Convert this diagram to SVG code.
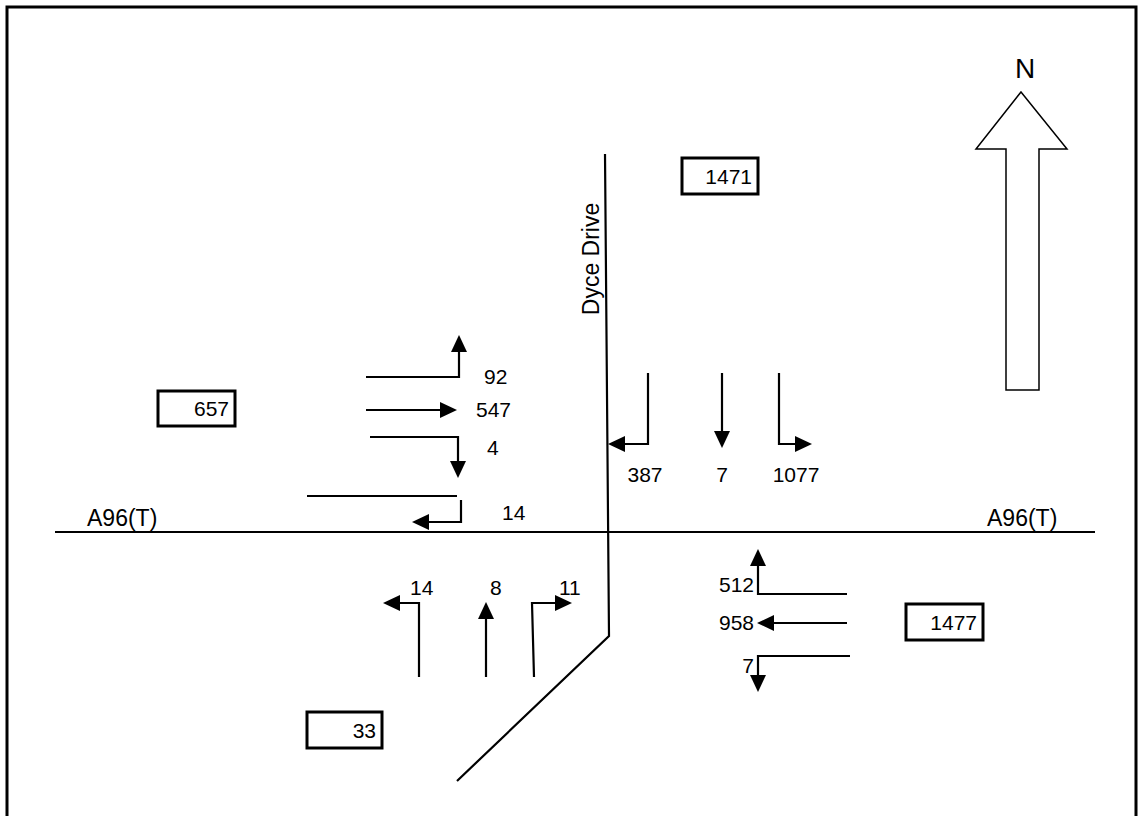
<svg xmlns="http://www.w3.org/2000/svg" width="1139" height="816" viewBox="0 0 1139 816">
<style>
.ln{stroke:#000;stroke-width:2.2;fill:none}
.hd{fill:#000;stroke:none}
.bx{fill:#fff;stroke:#000;stroke-width:3}
.t{font-family:"Liberation Sans",Arial,sans-serif;font-size:21px;fill:#000}
.r{font-family:"Liberation Sans",Arial,sans-serif;font-size:23px;fill:#000}
</style>
<rect x="0" y="0" width="1139" height="816" fill="#fff"/>
<g id="border"><path d="M7,840 V7 H1136 V840" fill="none" stroke="#000" stroke-width="3"/></g>
<g id="roads">
<path class="ln" d="M55,532 H1095"/>
<path class="ln" d="M605,154 L609,636 L457,781"/>
<text class="r" x="87" y="526">A96(T)</text>
<text class="r" x="987" y="526">A96(T)</text>
<text class="r" transform="translate(599,259) rotate(-90)" text-anchor="middle">Dyce Drive</text>
</g>
<g id="north">
<polygon points="1021,92 1067,149 1039,149 1039,390 1006,390 1006,149 976,149" fill="#fff" stroke="#000" stroke-width="1.5"/>
<text x="1025" y="78" text-anchor="middle" style="font-family:'Liberation Sans',Arial,sans-serif;font-size:28px">N</text>
</g>
<g id="box-1471"><rect class="bx" x="682" y="158" width="76" height="36"/><text class="t" x="752" y="184" text-anchor="end">1471</text></g>
<g id="box-657"><rect class="bx" x="158" y="391" width="77" height="35"/><text class="t" x="229" y="416" text-anchor="end">657</text></g>
<g id="box-33"><rect class="bx" x="307" y="712" width="75" height="36"/><text class="t" x="376" y="738" text-anchor="end">33</text></g>
<g id="box-1477"><rect class="bx" x="906" y="604" width="77" height="36"/><text class="t" x="977" y="630" text-anchor="end">1477</text></g>
<g id="connectors">
<path class="ln" d="M366,377 H459 V350"/><polygon class="hd" points="459,335 451,352 467,352"/>
<path class="ln" d="M366,410 H442"/><polygon class="hd" points="457,410 440,402 440,418"/>
<path class="ln" d="M370,437 H458 V463"/><polygon class="hd" points="458,478 450,461 466,461"/>
<path class="ln" d="M307,496 H457"/>
<path class="ln" d="M461,500 V522 H427"/><polygon class="hd" points="412,522 429,514 429,530"/>
<path class="ln" d="M419,677 V603 H398"/><polygon class="hd" points="383,603 400,595 400,611"/>
<path class="ln" d="M486,677 V617"/><polygon class="hd" points="486,602 478,619 494,619"/>
<path class="ln" d="M534,677 L532,603 H557"/><polygon class="hd" points="572,603 555,595 555,611"/>
<path class="ln" d="M648,373 V444 H623"/><polygon class="hd" points="608,444 625,436 625,452"/>
<path class="ln" d="M722,373 V433"/><polygon class="hd" points="722,448 714,431 730,431"/>
<path class="ln" d="M779,373 V444 H797"/><polygon class="hd" points="812,444 795,436 795,452"/>
<path class="ln" d="M847,594 H758 V564"/><polygon class="hd" points="758,549 750,566 766,566"/>
<path class="ln" d="M847,623 H772"/><polygon class="hd" points="757,623 774,615 774,631"/>
<path class="ln" d="M850,656 H758 V677"/><polygon class="hd" points="758,692 750,675 766,675"/>
</g>
<g id="labels">
<text class="t" x="484" y="384">92</text>
<text class="t" x="476" y="417">547</text>
<text class="t" x="487" y="455">4</text>
<text class="t" x="502" y="520">14</text>
<text class="t" x="410" y="595">14</text>
<text class="t" x="490" y="595">8</text>
<text class="t" x="559" y="595">11</text>
<text class="t" x="645" y="482" text-anchor="middle">387</text>
<text class="t" x="722" y="482" text-anchor="middle">7</text>
<text class="t" x="796" y="482" text-anchor="middle">1077</text>
<text class="t" x="754" y="592" text-anchor="end">512</text>
<text class="t" x="754" y="630" text-anchor="end">958</text>
<text class="t" x="754" y="673" text-anchor="end">7</text>
</g>
</svg>
